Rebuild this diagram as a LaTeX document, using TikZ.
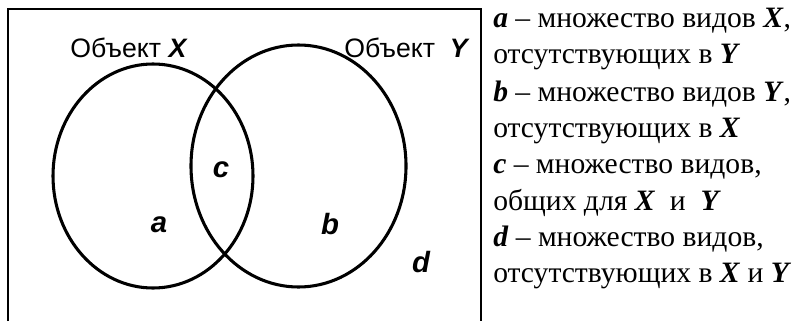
\documentclass[tikz,border=0pt]{standalone}
\usepackage{fontspec}
\setmainfont{Liberation Serif}
\newfontfamily\arialf{Liberation Sans}
\newcommand{\bi}[1]{\textbf{\textit{#1}}}
\begin{document}
\begin{tikzpicture}[x=0.75pt,y=-0.75pt,
  setline/.style={line width=2.3pt},
  framel/.style={line width=1.5pt},
  lbl/.style={font=\arialf\fontsize{20}{24}\selectfont, inner sep=0pt},
  letter/.style={font=\arialf\fontsize{22}{26}\selectfont\bfseries\itshape, inner sep=0pt},
  legend/.style={font=\fontsize{22.2}{26}\selectfont, inner sep=0pt, anchor=base west}]
\useasboundingbox (0,0) rectangle (795,321);
\draw[framel] (8,321) -- (8,9) -- (481,9) -- (481,321);
\draw[setline] (153,176) ellipse [x radius=100, y radius=112];
\draw[setline] (298.5,166) ellipse [x radius=107.5, y radius=121];
\node[lbl] (lx) at (129,48) {Объект \bi{X}};
\node[lbl] (ly) at (407,48) {Объект\ \ \bi{Y}};
\node[letter] (c) at (221,170) {c};
\node[letter] (a) at (159,225) {a};
\node[letter] (b) at (330,224) {b};
\node[letter] (d) at (421,262) {d};
\node[legend] (l1) at (493,28) {\bi{a} -- множество видов \bi{X},};
\node[legend] (l2) at (493,64) {отсутствующих в \bi{Y}};
\node[legend] (l3) at (493,101) {\bi{b} -- множество видов \bi{Y},};
\node[legend] (l4) at (493,137) {отсутствующих в \bi{X}};
\node[legend] (l5) at (493,173) {\bi{c} -- множество видов,};
\node[legend] (l6) at (493,210) {общих для \bi{X}\ \ и\ \ \bi{Y}};
\node[legend] (l7) at (493,246) {\bi{d} -- множество видов,};
\node[legend] (l8) at (493,282) {отсутствующих в \bi{X} и \bi{Y}};
\end{tikzpicture}
\end{document}
